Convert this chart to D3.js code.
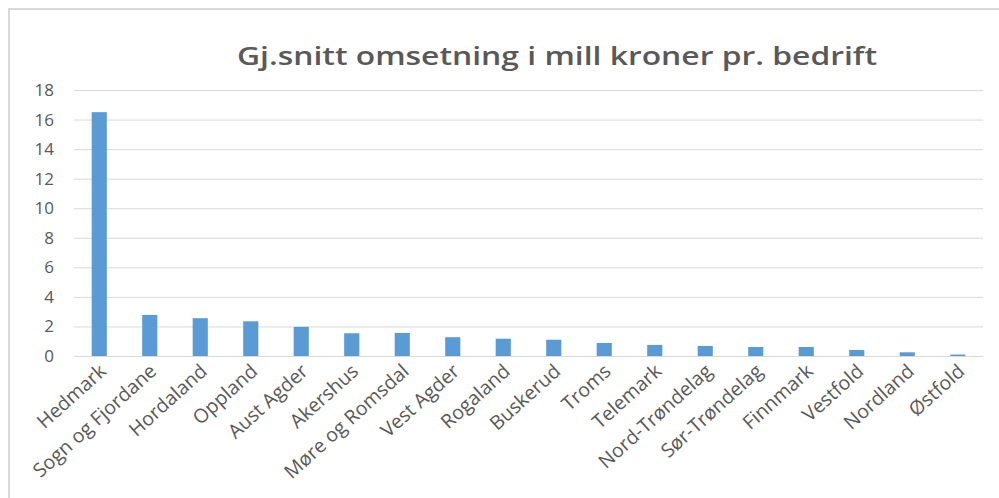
<!DOCTYPE html>
<html>
<head>
<meta charset="utf-8">
<script src="https://cdn.jsdelivr.net/npm/d3@7"></script>
<style>
  body { margin: 0; background: #fff; }
  svg { display: block; }
  .grid line { stroke: #d9d9d9; stroke-width: 1; }
  .axis text { fill: #595959; font-family: "Open Sans", sans-serif; }
</style>
</head>
<body>
<svg width="999" height="498"></svg>
<script>
var regions = ["Hedmark", "Sogn og Fjordane", "Hordaland", "Oppland", "Aust Agder", "Akershus",
  "Møre og Romsdal", "Vest Agder", "Rogaland", "Buskerud", "Troms", "Telemark",
  "Nord-Trøndelag", "Sør-Trøndelag", "Finnmark", "Vestfold", "Nordland", "Østfold"];
var omsetning = [16.5, 2.78, 2.56, 2.35, 1.97, 1.54, 1.56, 1.27, 1.17, 1.1, 0.88, 0.75,
  0.68, 0.61, 0.61, 0.41, 0.25, 0.1];
var yTicks = [0, 2, 4, 6, 8, 10, 12, 14, 16, 18];
var title = "Gj.snitt omsetning i mill kroner pr. bedrift";

var svg = d3.select("svg"),
    margin = {top: 90, right: 16, bottom: 142, left: 74},
    width = +svg.attr("width") - margin.left - margin.right,
    height = +svg.attr("height") - margin.top - margin.bottom;

// chart frame (only left and top edges are visible)
svg.append("path")
    .attr("d", "M9,498 L9,9 L999,9")
    .attr("fill", "none")
    .attr("stroke", "#d9d9d9")
    .attr("stroke-width", 2);

svg.append("text")
    .attr("x", 557)
    .attr("y", 65)
    .attr("text-anchor", "middle")
    .attr("fill", "#595959")
    .style("font-family", "'Open Sans', sans-serif")
    .style("font-weight", "600")
    .style("font-size", "25px")
    .attr("textLength", 640)
    .attr("lengthAdjust", "spacingAndGlyphs")
    .text(title);

var x = d3.scaleBand().domain(regions).range([0, width]).paddingInner(0.7).paddingOuter(0.35);
var y = d3.scaleLinear().domain([0, 18]).range([height, 0]);

var g = svg.append("g")
    .attr("transform", "translate(" + margin.left + "," + margin.top + ")");

g.append("g")
    .attr("class", "grid")
    .call(d3.axisLeft(y).tickValues(yTicks).tickSize(-width).tickFormat(""))
    .call(function(s) { s.select(".domain").remove(); });

g.append("g")
    .attr("class", "axis axis--y")
    .call(d3.axisLeft(y).tickValues(yTicks).tickSize(0).tickPadding(20))
    .call(function(s) { s.select(".domain").remove(); })
    .selectAll("text")
    .style("font-size", "17px");

g.selectAll(".bar")
  .data(omsetning)
  .enter().append("rect")
    .attr("class", "bar")
    .attr("x", function(d, i) { return x(regions[i]); })
    .attr("y", function(d) { return y(d); })
    .attr("width", x.bandwidth())
    .attr("height", function(d) { return height - y(d); })
    .attr("fill", "#5b9bd5");

var xAxis = g.append("g")
    .attr("class", "axis axis--x")
    .attr("transform", "translate(0," + height + ")")
    .call(d3.axisBottom(x).tickSize(0).tickPadding(0));
xAxis.select(".domain").remove();
xAxis.selectAll("text")
    .style("font-size", "19.5px")
    .style("text-anchor", "end")
    .attr("dx", "0")
    .attr("dy", "0")
    .attr("transform", "translate(8,17) rotate(-42)");
</script>
</body>
</html>
